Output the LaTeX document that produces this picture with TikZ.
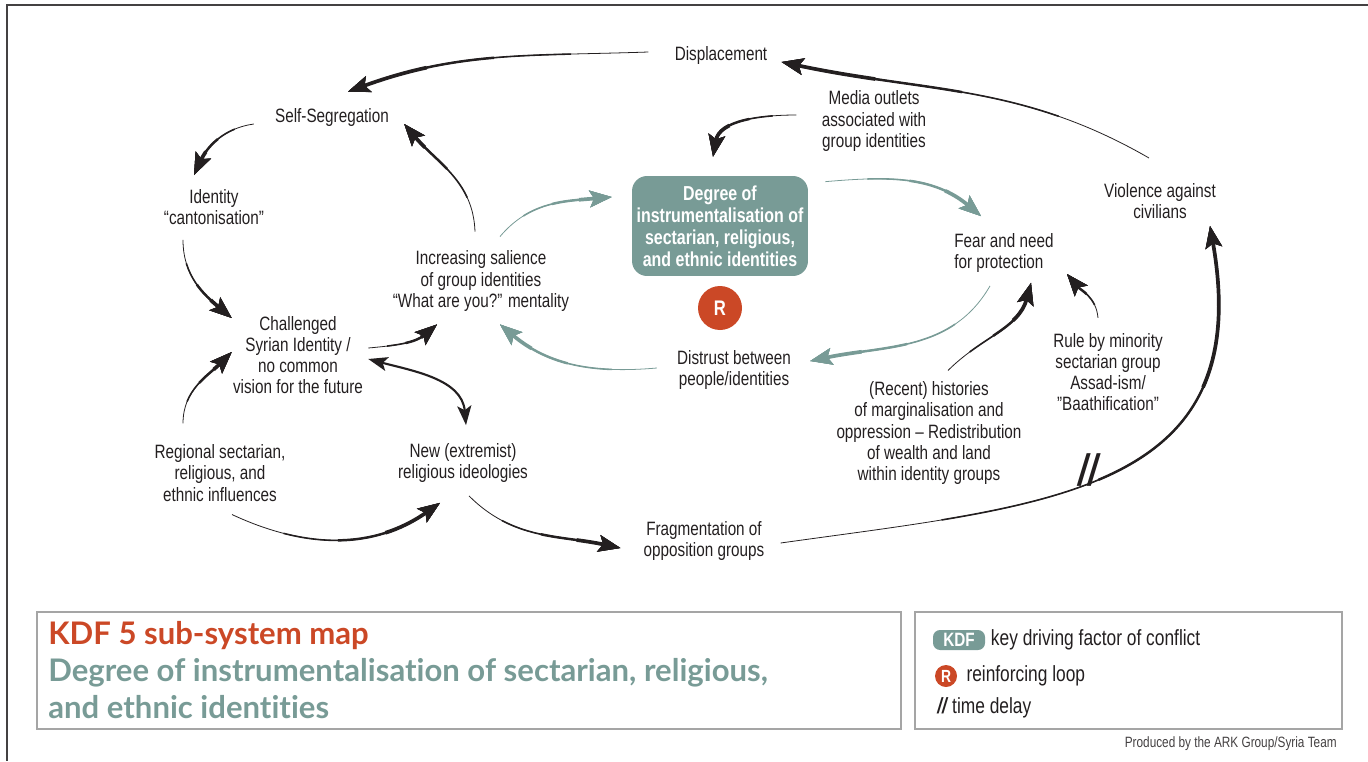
\documentclass[tikz,border=0pt]{standalone}
\usepackage{fontspec}
\setmainfont{Liberation Sans}[FakeStretch=0.79]
\newfontfamily\titlefont{Lato}[Ligatures=NoCommon]
\usetikzlibrary{calc}
\usetikzlibrary{positioning}
\usetikzlibrary{arrows.meta}
\definecolor{ink}{RGB}{35,31,32}
\definecolor{kdfteal}{RGB}{120,155,150}
\definecolor{loopred}{RGB}{203,72,38}
\definecolor{framegray}{RGB}{165,165,165}
\tikzset{
    lbl/.style={inner sep=0pt, align=center, text=ink, font=\fontsize{11}{12}\selectfont},
    flow/.style={
        color=ink, line width=0.45pt,
        -{Stealth[length=12.5pt,width=9.5pt,inset=2.5pt]},
        postaction={draw, line width=0.9pt, dash pattern=on 0pt off 0.25*#1 on 3000pt off 0pt},
        postaction={draw, line width=1.4pt, dash pattern=on 0pt off 0.5*#1 on 3000pt off 0pt},
        postaction={draw, line width=2.1pt, dash pattern=on 0pt off 0.72*#1 on 3000pt off 0pt},
    },
    flow/.default=100pt,
    twoway/.style={color=ink, line width=1.2pt,
        {Stealth[length=11pt,width=8pt,inset=2.5pt]}-{Stealth[length=11pt,width=8pt,inset=2.5pt]}},
    kdfbox/.style={fill=kdfteal, rounded corners=0.3cm, minimum width=3.52cm, minimum height=2cm,
        inner sep=0pt, align=center, text=white, font=\fontsize{11.5}{12.6}\selectfont\bfseries},
    rloop/.style={circle, fill=loopred, text=white, inner sep=0pt, font=\bfseries},
    legendbox/.style={draw=framegray, line width=1.2pt},
}
\begin{document}
\begin{tikzpicture}[x=0.02cm, y=-0.02cm]
    \useasboundingbox (0,0) rectangle (1368,761);
    \draw[ink!85, line width=1.1pt] (1368,5) -- (7,5) -- (7,761);

    % factors
    \node[lbl] (disp) at (721,56) {Displacement};
    \node[lbl] (selfseg) at (332,117) {Self-Segregation};
    \node[lbl] (canton) at (214,207) {Identity\\“cantonisation”};
    \node[lbl] (challenged) at (298,355) {Challenged\\Syrian Identity /\\no common\\vision for the future};
    \node[lbl] (salience) at (481,281) {Increasing salience\\of group identities\\“What are you?” mentality};
    \node[kdfbox] (degree) at (720,226) {Degree of\\instrumentalisation of\\sectarian, religious,\\and ethnic identities};
    \node[rloop, minimum size=0.88cm, font=\fontsize{12}{12}\selectfont\bfseries] (rmark) at (720,308) {R};
    \node[lbl] (media) at (874,121) {Media outlets\\associated with\\group identities};
    \node[lbl, align=left] (fear) at (1004,253) {Fear and need\\for protection};
    \node[lbl] (violence) at (1160,201) {Violence against\\civilians};
    \node[lbl] (distrust) at (734,370) {Distrust between\\people/identities};
    \node[lbl] (histories) at (929,433) {(Recent) histories\\of marginalisation and\\oppression -- Redistribution\\of wealth and land\\within identity groups};
    \node[lbl] (rule) at (1108,372) {Rule by minority\\sectarian group\\Assad-ism/\\”Baathification”};
    \node[lbl] (regional) at (220,473) {Regional sectarian,\\religious, and\\ethnic influences};
    \node[lbl] (newrel) at (463,463) {New (extremist)\\religious ideologies};
    \node[lbl] (frag) at (704,541) {Fragmentation of\\opposition groups};

    % links
    \draw[flow=176pt] ($(disp.west)+(-26,-4)$) to[out=182, in=20] ($(selfseg.north)+(16,-16)$);
    \draw[flow=45pt] ($(selfseg.west)+(-21,7)$) to[out=188, in=65] ($(canton.north)+(-20,-14)$);
    \draw[flow=54pt] ($(canton.south)+(-31,15)$) to[out=-90, in=140] ($(challenged.west)+(-1,-37)$);
    \draw[flow=43pt] ($(challenged.east)+(5,-7)$) to[out=5, in=220] ($(salience.south)+(-44,13)$);
    \draw[twoway] ($(challenged.east)+(5,4)$) to[out=-15, in=95] ($(newrel.north)+(3,-18)$);
    \draw[flow=51pt] ($(regional.north)+(-37,-21)$) to[out=90, in=225] ($(challenged.west)+(-1,-3)$);
    \draw[flow=125pt] ($(regional.south)+(12,13)$) to[out=-25, in=215] ($(newrel.south)+(-23,20)$);
    \draw[flow=94pt] ($(newrel.south)+(6,13)$) to[out=-45, in=168] ($(frag.west)+(-23,7)$);
    \draw[flow=80pt] ($(salience.north)+(-6,-19)$) to[out=92, in=-50] ($(selfseg.east)+(15,7)$);
    \draw[flow=71pt, kdfteal] ($(salience.north)+(19,-14)$) to[out=50, in=185] ($(degree.west)+(-20,-29)$);
    \draw[flow=96pt, kdfteal] ($(degree.north east)+(17,6)$) to[out=5, in=140] ($(fear.north)+(-23,-17)$);
    \draw[flow=119pt, kdfteal] ($(fear.south)+(-14,13)$) to[out=240, in=12] ($(distrust.east)+(19,-9)$);
    \draw[flow=102pt, kdfteal] ($(distrust.west)+(-20,-2)$) to[out=185, in=-40] ($(salience.south)+(19,13)$);
    \draw[flow=54pt] ($(media.west)+(-25,-6)$) to[out=180, in=80] ($(degree.north)+(-7,-19)$);
    \draw[flow=227pt] ($(violence.north)+(-11,-25)$) to[out=150, in=-12] ($(disp.east)+(14,6)$);
    \draw[flow=65pt] ($(histories.north)+(19,-11)$) to[out=45, in=255] ($(fear.south)+(27,10)$);
    \draw[flow=31pt] ($(rule.north)+(-10,-15)$) to[out=95, in=-50] ($(fear.east)+(13,21)$);
    \draw[flow=370pt] ($(frag.east)+(16,2)$) to[out=8, in=-80, looseness=1.3] ($(violence.south)+(50,7)$);
    \node[inner sep=0pt, text=ink, font=\fontsize{25}{25}\selectfont\bfseries\itshape] (delay) at (1088,470) {//};

    % legend
    \draw[legendbox] (37,612) rectangle (901,729);
    \draw[legendbox] (915,612) rectangle (1342,729);
    \node[anchor=west, inner sep=0pt, align=left, text=kdfteal, font=\titlefont\fontsize{17.7}{21}\selectfont\bfseries] (maptitle) at (48,670)
        {\textcolor{loopred}{KDF 5 sub-system map}\\Degree of instrumentalisation of sectarian, religious,\\and ethnic identities};
    \node[fill=kdfteal, rounded corners=4pt, minimum width=1.04cm, minimum height=0.4cm, inner sep=0pt,
        text=white, font=\fontsize{11}{11}\selectfont\bfseries] (kdfbadge) at (959,640) {KDF};
    \node[lbl, right=3pt of kdfbadge, font=\fontsize{12.5}{14}\selectfont] (kdfkey) {key driving factor of conflict};
    \node[rloop, minimum size=0.44cm, font=\fontsize{10}{10}\selectfont\bfseries] (rkey) at (946,676) {R};
    \node[lbl, right=5pt of rkey, font=\fontsize{12.5}{14}\selectfont] (rtext) {reinforcing loop};
    \node[lbl, anchor=west, font=\fontsize{12.5}{14}\selectfont] (delaykey) at (937,708) {\textbf{\textit{//}}\,time delay};
    \node[lbl, anchor=east, text=ink!85, font=\fontsize{8.5}{9}\selectfont] (credit) at (1337,744) {Produced by the ARK Group/Syria Team};
\end{tikzpicture}
\end{document}
